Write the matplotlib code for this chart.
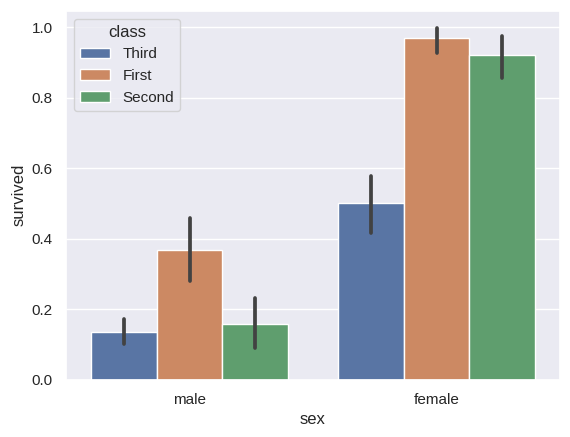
import numpy as np
import matplotlib
matplotlib.use("Agg")
import matplotlib.pyplot as plt
import seaborn as sns

# Survival rate by sex and class (titanic)
sexes = ["male", "female"]
classes = ["Third", "First", "Second"]
survived = {
    "Third": [0.135, 0.500],
    "First": [0.369, 0.968],
    "Second": [0.157, 0.921],
}
ci_low = {
    "Third": [0.100, 0.415],
    "First": [0.279, 0.927],
    "Second": [0.091, 0.856],
}
ci_high = {
    "Third": [0.172, 0.578],
    "First": [0.459, 0.998],
    "Second": [0.232, 0.975],
}

sns.set_theme()
plt.rcParams['font.family'] = ['Liberation Sans', 'DejaVu Sans']
# seaborn barplot desaturates its palette a bit
colors = [sns.desaturate(c, 0.75) for c in sns.color_palette("deep")]

fig = plt.figure(figsize=(5.7, 4.37), dpi=100)
ax = fig.add_axes([0.1158, 0.1314, 0.9825 - 0.1158, 0.9748 - 0.1314])

x = np.arange(len(sexes))
width = 0.8 / len(classes)
for i, cls in enumerate(classes):
    pos = x - 0.4 + width * (i + 0.5)
    ax.bar(pos, survived[cls], width, color=colors[i], edgecolor="white",
           linewidth=1, label=cls, zorder=2)
    ax.vlines(pos, ci_low[cls], ci_high[cls], color=".26", linewidth=2.7,
              capstyle="round", zorder=3)

ax.set_xticks(x, sexes)
ax.set_xlim(-0.5, 1.5)
ax.set_ylim(0, 1.046)
ax.xaxis.grid(False)
ax.set_xlabel("sex")
ax.set_ylabel("survived")
ax.legend(title="class", loc="upper left")

fig.savefig("out.png", dpi=100)
